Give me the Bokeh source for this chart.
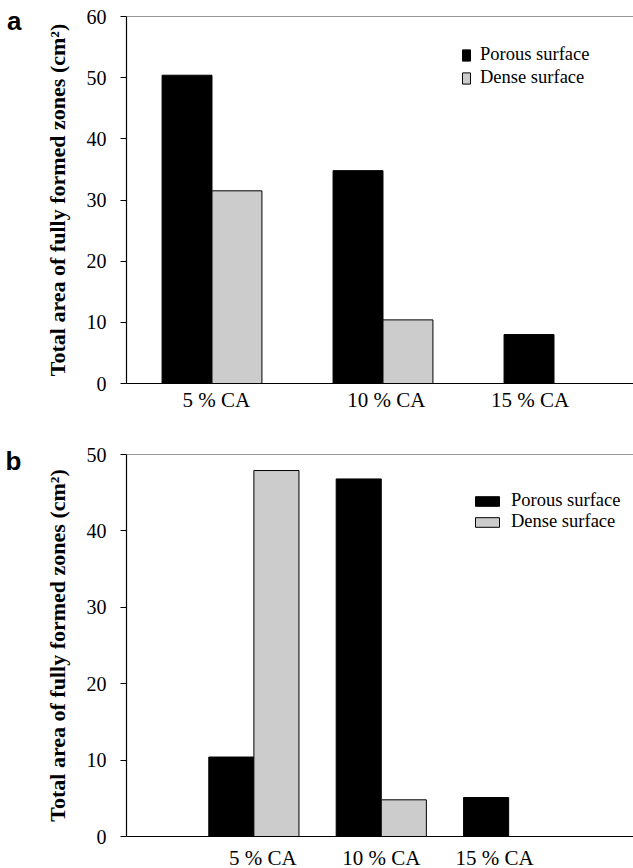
from bokeh.plotting import figure
from bokeh.models import Span, Legend, LegendItem, FixedTicker, Range1d, LinearAxis
from bokeh.layouts import column
from bokeh.embed import file_html
from bokeh.resources import INLINE

# ---------------- data ----------------
categories = ["5 % CA", "10 % CA", "15 % CA"]
series_names = ["Porous surface", "Dense surface"]

a_porous = [50.4, 34.8, 8.0]
a_dense = [31.5, 10.4, 0.0]
a_yticks = [0, 10, 20, 30, 40, 50, 60]

b_porous = [10.4, 46.8, 5.1]
b_dense = [47.9, 4.8, 0.0]
b_yticks = [0, 10, 20, 30, 40, 50]

y_title = "Total area of fully formed zones (cm\u00b2)"

SERIF = "Liberation Serif"
SANS = "Liberation Sans"
POROUS_COLOR = "black"
DENSE_COLOR = "#cccccc"


def make_panel(porous, dense, yticks, first_center, bar_w, x_max, label_pos,
               frame_h, top_b, bottom_b, letter, letter_tick, leg_loc, leg_glyph,
               leg_h, leg_spacing, x_standoff):
    y_max = yticks[-1]
    p = figure(width=633, frame_width=507, frame_height=frame_h,
               min_border_left=126, min_border_right=0,
               min_border_top=top_b, min_border_bottom=bottom_b,
               x_range=Range1d(0, x_max), y_range=Range1d(0, y_max),
               output_backend="svg", toolbar_location=None)
    centers = [first_center + i for i in range(len(categories))]
    xs_p = [c - bar_w / 2 for c in centers]
    xs_d = [c + bar_w / 2 for c in centers]
    r1 = p.vbar(x=xs_p, top=porous, width=bar_w, fill_color=POROUS_COLOR,
                line_color="black", line_width=1)
    r2 = p.vbar(x=xs_d, top=dense, width=bar_w, fill_color=DENSE_COLOR,
                line_color="black", line_width=1)

    p.grid.visible = False
    p.outline_line_color = None
    p.background_fill_color = "white"
    p.border_fill_color = "white"
    p.add_layout(Span(location=y_max, dimension="width",
                      line_color="#333333", line_width=1.2))

    # x axis
    xa = p.xaxis[0]
    xa.ticker = FixedTicker(ticks=label_pos)
    xa.major_label_overrides = {pos: cat for pos, cat in zip(label_pos, categories)}
    xa.major_tick_line_color = None
    xa.minor_tick_line_color = None
    xa.axis_line_color = "black"
    xa.axis_line_width = 1.2
    xa.major_label_text_font = SERIF
    xa.major_label_text_font_size = "21px"
    xa.major_label_text_color = "black"
    xa.major_label_standoff = x_standoff

    # y axis
    ya = p.yaxis[0]
    ya.ticker = FixedTicker(ticks=yticks)
    ya.major_tick_out = 6
    ya.major_tick_in = 0
    ya.minor_tick_line_color = None
    ya.axis_line_color = "black"
    ya.axis_line_width = 1.2
    ya.major_tick_line_color = "black"
    ya.major_label_text_font = SERIF
    ya.major_label_text_font_size = "20px"
    ya.major_label_text_color = "black"
    ya.major_label_standoff = 14
    ya.axis_label = y_title
    ya.axis_label_text_font = SERIF
    ya.axis_label_text_font_style = "bold"
    ya.axis_label_text_font_size = "22px"
    ya.axis_label_text_color = "black"
    ya.axis_label_standoff = 14

    # panel letter drawn as the single label of an extra, invisible left axis
    la = LinearAxis(ticker=FixedTicker(ticks=[letter_tick]),
                    major_label_overrides={letter_tick: letter},
                    axis_line_color=None, major_tick_line_color=None,
                    minor_tick_line_color=None, major_tick_out=0, major_tick_in=0,
                    major_label_standoff=20,
                    major_label_text_font=SANS, major_label_text_font_style="bold",
                    major_label_text_font_size="26px", major_label_text_color="black")
    p.add_layout(la, "left")

    legend = Legend(items=[LegendItem(label=series_names[0], renderers=[r1]),
                           LegendItem(label=series_names[1], renderers=[r2])],
                    location=leg_loc, border_line_color=None,
                    background_fill_alpha=0, padding=0, margin=0,
                    glyph_width=leg_glyph[0], glyph_height=leg_glyph[1],
                    label_height=leg_h, spacing=leg_spacing, label_standoff=9,
                    label_text_font=SERIF, label_text_font_size="18.5px",
                    label_text_color="black")
    p.add_layout(legend)
    return p


pa = make_panel(a_porous, a_dense, a_yticks, first_center=0.5, bar_w=0.292,
                x_max=2.965, label_pos=[0.526, 1.52, 2.36], frame_h=367,
                top_b=16, bottom_b=37, letter="a", letter_tick=59.2,
                leg_loc=(335, 295), leg_glyph=(10, 14), leg_h=20, leg_spacing=2,
                x_standoff=-2)

pb = make_panel(b_porous, b_dense, b_yticks, first_center=1.0, bar_w=0.354,
                x_max=3.98, label_pos=[1.07, 2.0, 2.89], frame_h=382,
                top_b=34, bottom_b=32, letter="b", letter_tick=49.1,
                leg_loc=(346, 304), leg_glyph=(30, 12), leg_h=15, leg_spacing=-5,
                x_standoff=3)

layout = column(pa, pb, spacing=0)
open("out.html", "w").write(file_html(layout, INLINE))
